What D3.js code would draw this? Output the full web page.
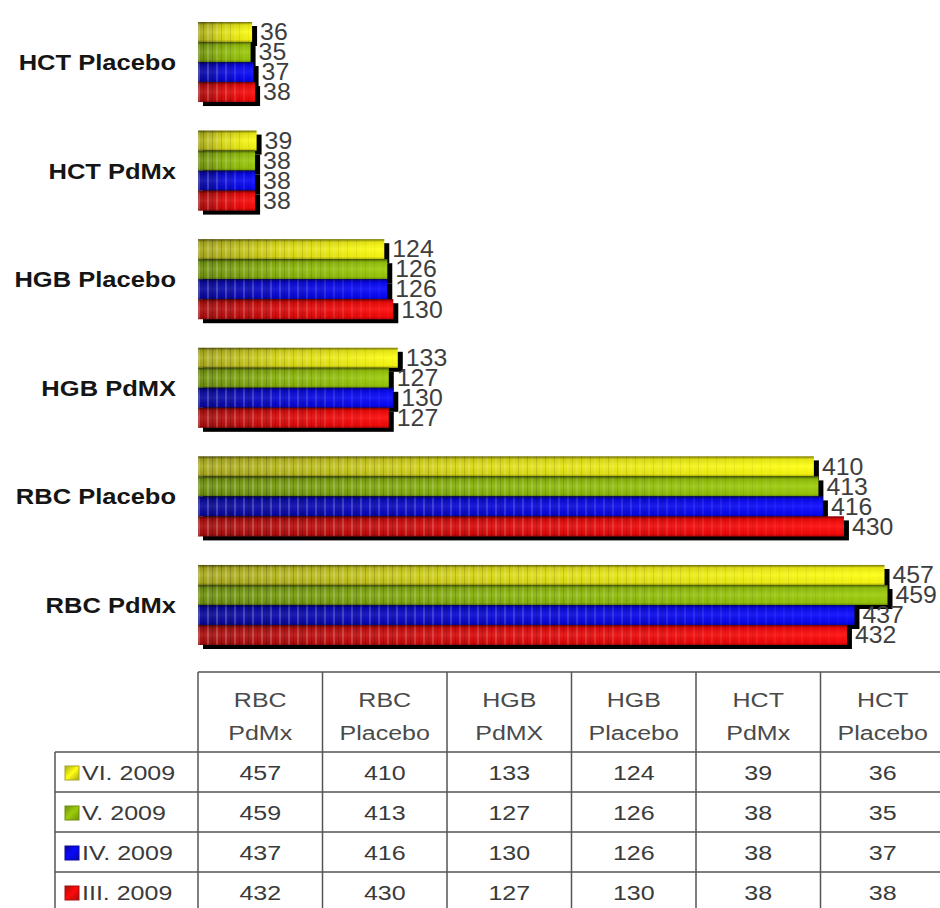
<!DOCTYPE html>
<html>
<head>
<meta charset="utf-8">
<script src="https://cdn.jsdelivr.net/npm/d3@7"></script>
<style>
  html, body { margin: 0; padding: 0; background: #fff; }
  svg { display: block; }
</style>
</head>
<body>
<script>
// Blood values per measure and month
const categories = ["RBC PdMx", "RBC Placebo", "HGB PdMX", "HGB Placebo", "HCT PdMx", "HCT Placebo"];
const headerLines = [["RBC", "PdMx"], ["RBC", "Placebo"], ["HGB", "PdMX"], ["HGB", "Placebo"], ["HCT", "PdMx"], ["HCT", "Placebo"]];
const seriesNames = ["VI. 2009", "V. 2009", "IV. 2009", "III. 2009"];
const valuesVI  = [457, 410, 133, 124, 39, 36];
const valuesV   = [459, 413, 127, 126, 38, 35];
const valuesIV  = [437, 416, 130, 126, 38, 37];
const valuesIII = [432, 430, 127, 130, 38, 38];
const seriesValues = [valuesVI, valuesV, valuesIV, valuesIII];
const seriesColors = [
  { dark: "#a8a820", light: "#ffff10" },
  { dark: "#6f9010", light: "#9ccc08" },
  { dark: "#0a0a9a", light: "#0808ff" },
  { dark: "#a81010", light: "#ff0808" }
];

const W = 940, H = 908;
const svg = d3.select("body").append("svg").attr("width", W).attr("height", H);
const defs = svg.append("defs");

// Gradients per series: horizontal shading, plus a shared vertical bevel
seriesColors.forEach((c, i) => {
  const g = defs.append("linearGradient").attr("id", "hg" + i)
    .attr("x1", 0).attr("x2", 1).attr("y1", 0).attr("y2", 0);
  g.append("stop").attr("offset", 0).attr("stop-color", c.dark);
  g.append("stop").attr("offset", 0.45).attr("stop-color", d3.interpolateRgb(c.dark, c.light)(0.6));
  g.append("stop").attr("offset", 1).attr("stop-color", c.light);
  const s = defs.append("linearGradient").attr("id", "sw" + i)
    .attr("x1", 0).attr("x2", 1).attr("y1", 0).attr("y2", 1);
  s.append("stop").attr("offset", 0).attr("stop-color", c.dark);
  s.append("stop").attr("offset", 0.5).attr("stop-color", c.light);
  s.append("stop").attr("offset", 1).attr("stop-color", c.dark);
});
const bevel = defs.append("linearGradient").attr("id", "bevel")
  .attr("x1", 0).attr("x2", 0).attr("y1", 0).attr("y2", 1);
bevel.append("stop").attr("offset", 0).attr("stop-color", "#000").attr("stop-opacity", 0.55);
bevel.append("stop").attr("offset", 0.14).attr("stop-color", "#000").attr("stop-opacity", 0.1);
bevel.append("stop").attr("offset", 0.5).attr("stop-color", "#fff").attr("stop-opacity", 0.08);
bevel.append("stop").attr("offset", 0.88).attr("stop-color", "#000").attr("stop-opacity", 0.05);
bevel.append("stop").attr("offset", 1).attr("stop-color", "#000").attr("stop-opacity", 0.3);

// Faint vertical striping that fades out toward the bar end
const stripes = defs.append("pattern").attr("id", "stripes")
  .attr("patternUnits", "userSpaceOnUse").attr("width", 9).attr("height", 20);
stripes.append("rect").attr("x", 0).attr("y", 0).attr("width", 2).attr("height", 20)
  .attr("fill", "#fff").attr("opacity", 0.22);
stripes.append("rect").attr("x", 5).attr("y", 0).attr("width", 1).attr("height", 20)
  .attr("fill", "#000").attr("opacity", 0.18);
const fade = defs.append("linearGradient").attr("id", "fade")
  .attr("x1", 0).attr("x2", 1).attr("y1", 0).attr("y2", 0);
fade.append("stop").attr("offset", 0).attr("stop-color", "#fff");
fade.append("stop").attr("offset", 0.55).attr("stop-color", "#fff").attr("stop-opacity", 0.7);
fade.append("stop").attr("offset", 1).attr("stop-color", "#fff").attr("stop-opacity", 0.1);
defs.append("mask").attr("id", "fadeMask").attr("maskContentUnits", "objectBoundingBox")
  .append("rect").attr("width", 1).attr("height", 1).attr("fill", "url(#fade)");

// Scales
const x = d3.scaleLinear().domain([0, 460]).range([198, 889]);
const y = d3.scaleBand().domain(categories.slice().reverse()).range([22, 645]).paddingInner(0.263).paddingOuter(0);
const ySub = d3.scaleBand().domain(d3.range(seriesNames.length)).range([0, y.bandwidth()]);

const rows = [];
categories.forEach((cat, ci) => {
  seriesValues.forEach((vals, si) => rows.push({ cat, si, value: vals[ci] }));
});

const font = "Liberation Sans, Arial, sans-serif";
const chart = svg.append("g");
// drop shadows
chart.selectAll("rect.shadow").data(rows).join("rect")
  .attr("class", "shadow")
  .attr("x", x(0) + 5)
  .attr("y", d => y(d.cat) + ySub(d.si) + 4)
  .attr("width", d => x(d.value) - x(0))
  .attr("height", ySub.bandwidth())
  .attr("fill", "#000");
// bars
chart.selectAll("rect.bar").data(rows).join("rect")
  .attr("class", "bar")
  .attr("x", x(0))
  .attr("y", d => y(d.cat) + ySub(d.si))
  .attr("width", d => x(d.value) - x(0))
  .attr("height", ySub.bandwidth())
  .attr("fill", d => `url(#hg${d.si})`);
chart.selectAll("rect.stripe").data(rows).join("rect")
  .attr("class", "stripe")
  .attr("x", x(0))
  .attr("y", d => y(d.cat) + ySub(d.si))
  .attr("width", d => x(d.value) - x(0))
  .attr("height", ySub.bandwidth())
  .attr("fill", "url(#stripes)")
  .attr("mask", "url(#fadeMask)");
chart.selectAll("rect.bevel").data(rows).join("rect")
  .attr("class", "bevel")
  .attr("x", x(0))
  .attr("y", d => y(d.cat) + ySub(d.si))
  .attr("width", d => x(d.value) - x(0))
  .attr("height", ySub.bandwidth())
  .attr("fill", "url(#bevel)");

// value labels
chart.selectAll("text.val").data(rows).join("text")
  .attr("class", "val")
  .attr("transform", d => `translate(${x(d.value) + 8},${y(d.cat) + ySub(d.si) + ySub.bandwidth() / 2}) scale(1.08,1)`)
  .attr("dy", "0.36em")
  .attr("font-family", font)
  .attr("font-size", 23)
  .attr("fill", "#3e3e3e")
  .text(d => d.value);

// category labels
svg.append("g").selectAll("text").data(categories).join("text")
  .attr("transform", d => `translate(176,${y(d) + y.bandwidth() / 2}) scale(1.16,1)`)
  .attr("dy", "0.36em")
  .attr("text-anchor", "end")
  .attr("font-family", font)
  .attr("font-weight", "bold")
  .attr("font-size", 22)
  .attr("fill", "#151515")
  .text(d => d);

// Data table
const col = d3.scaleBand().domain(categories).range([198, 198 + 6 * 124.5]);
const headTop = 672, headBottom = 752, rowH = 40;
const tbl = svg.append("g");
const lineColor = "#555";
const stretch = "scale(1.25,1)";

// horizontal rules
tbl.append("line").attr("x1", 198).attr("x2", W).attr("y1", headTop).attr("y2", headTop)
  .attr("stroke", lineColor).attr("stroke-width", 1.5);
d3.range(seriesNames.length).forEach(i => {
  const yy = headBottom + i * rowH;
  tbl.append("line").attr("x1", 55).attr("x2", W).attr("y1", yy).attr("y2", yy)
    .attr("stroke", lineColor).attr("stroke-width", 1.5);
});
// vertical rules
tbl.append("line").attr("x1", 55).attr("x2", 55).attr("y1", headBottom).attr("y2", H)
  .attr("stroke", lineColor).attr("stroke-width", 1.5);
categories.forEach(c => {
  tbl.append("line").attr("x1", col(c)).attr("x2", col(c)).attr("y1", headTop).attr("y2", H)
    .attr("stroke", lineColor).attr("stroke-width", 1.5);
});

// header text
categories.forEach((c, i) => {
  const cx = col(c) + col.bandwidth() / 2;
  headerLines[i].forEach((line, li) => {
    tbl.append("text").attr("transform", `translate(${cx},${li === 0 ? 707 : 740}) ${stretch}`)
      .attr("text-anchor", "middle").attr("font-family", font).attr("font-size", 20)
      .attr("fill", "#4a4a4a").text(line);
  });
});

// body rows
seriesNames.forEach((name, si) => {
  const cy = headBottom + si * rowH + rowH / 2 + 1;
  tbl.append("rect").attr("x", 65).attr("y", cy - 7).attr("width", 14).attr("height", 14)
    .attr("fill", `url(#sw${si})`).attr("stroke", seriesColors[si].dark).attr("stroke-width", 1);
  tbl.append("text").attr("transform", `translate(82,${cy}) ${stretch}`).attr("dy", "0.36em")
    .attr("font-family", font).attr("font-size", 20)
    .attr("fill", "#3a3a3a").text(name);
  categories.forEach((c, ci) => {
    tbl.append("text").attr("transform", `translate(${col(c) + col.bandwidth() / 2},${cy}) ${stretch}`)
      .attr("dy", "0.36em")
      .attr("text-anchor", "middle").attr("font-family", font).attr("font-size", 20)
      .attr("fill", "#3a3a3a").text(seriesValues[si][ci]);
  });
});
</script>
</body>
</html>
